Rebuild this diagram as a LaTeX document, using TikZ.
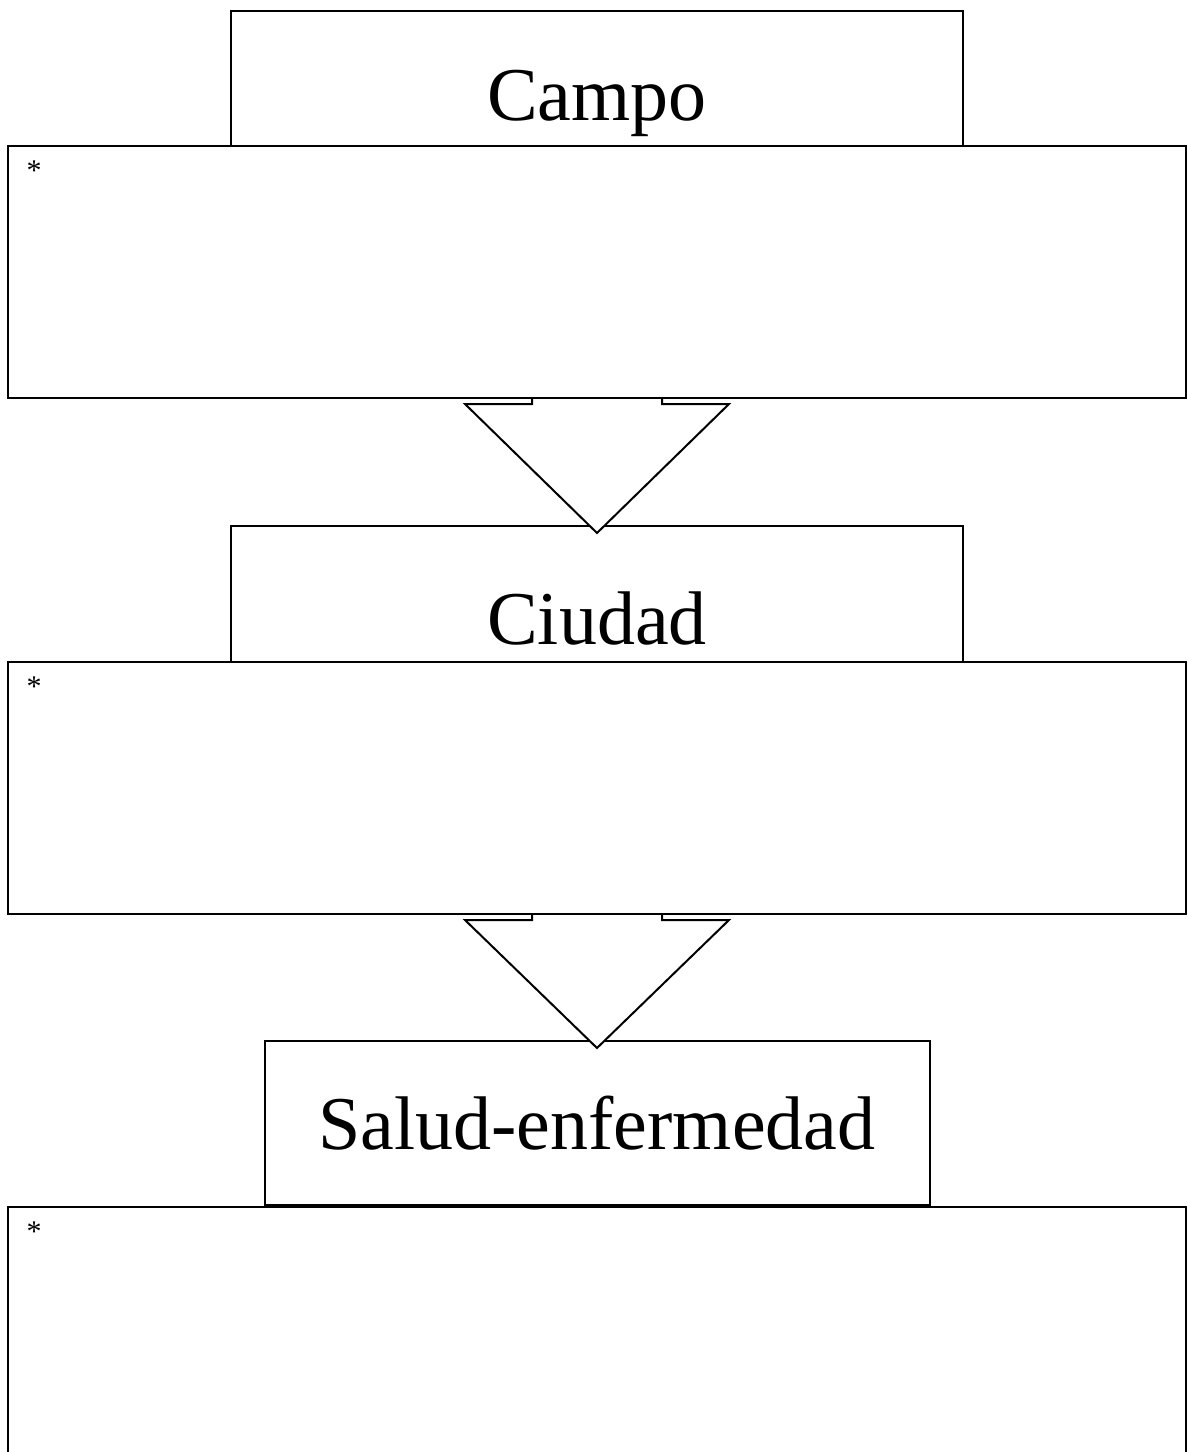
\documentclass[tikz,border=0pt]{standalone}
\usepackage{fontspec}
\setmainfont{Liberation Serif}
\usetikzlibrary{calc}
\tikzset{
	titlebox/.style={draw, line width=1pt, fill=white, inner sep=0pt, minimum width=366pt,
			font=\fontsize{38}{44}\selectfont},
	notebox/.style={draw, line width=1pt, fill=white, inner sep=0pt,
			minimum width=589pt, minimum height=126pt},
	starmark/.style={inner sep=0pt, font=\fontsize{15}{17}\selectfont},
	blockarrow/.style={draw, line width=1pt, fill=white, line join=miter}
}

\begin{document}
\begin{tikzpicture}[x=0.5pt, y=-0.5pt]

	% Page frame
	\useasboundingbox (0,0) rectangle (1188,1452);

	% Title boxes
	\node[titlebox, minimum height=92pt, anchor=north] (campo) at (597,10) {Campo};
	\node[titlebox, minimum height=92pt, anchor=north] (ciudad) at (597,525) {Ciudad};
	\node[titlebox, minimum height=82pt, minimum width=332.5pt, anchor=north] (salud) at (597,1040) {Salud-enfermedad};

	% Boxes for notes
	\node[notebox, anchor=north] (campobox) at (597,145) {};
	\node[notebox, anchor=north] (ciudadbox) at (597,661) {};
	\node[notebox, anchor=north] (saludbox) at (597,1206) {};

	% Stars in the corners
	\node[starmark] (campostar) at ($(campobox.north west)+(27,26)$) {*};
	\node[starmark] (ciudadstar) at ($(ciudadbox.north west)+(27,26)$) {*};
	\node[starmark] (saludstar) at ($(saludbox.north west)+(27,26)$) {*};

	% Block arrows
	\draw[blockarrow] ($(campobox.south)+(-65,0)$) -- ++(0,5) -- ++(-67,0)
		-- ($(ciudad.north)+(0,8)$) -- ($(campobox.south)+(132,5)$) -- ++(-67,0) -- ++(0,-5);
	\draw[blockarrow] ($(ciudadbox.south)+(-65,0)$) -- ++(0,5) -- ++(-67,0)
		-- ($(salud.north)+(0,8)$) -- ($(ciudadbox.south)+(132,5)$) -- ++(-67,0) -- ++(0,-5);

\end{tikzpicture}
\end{document}
